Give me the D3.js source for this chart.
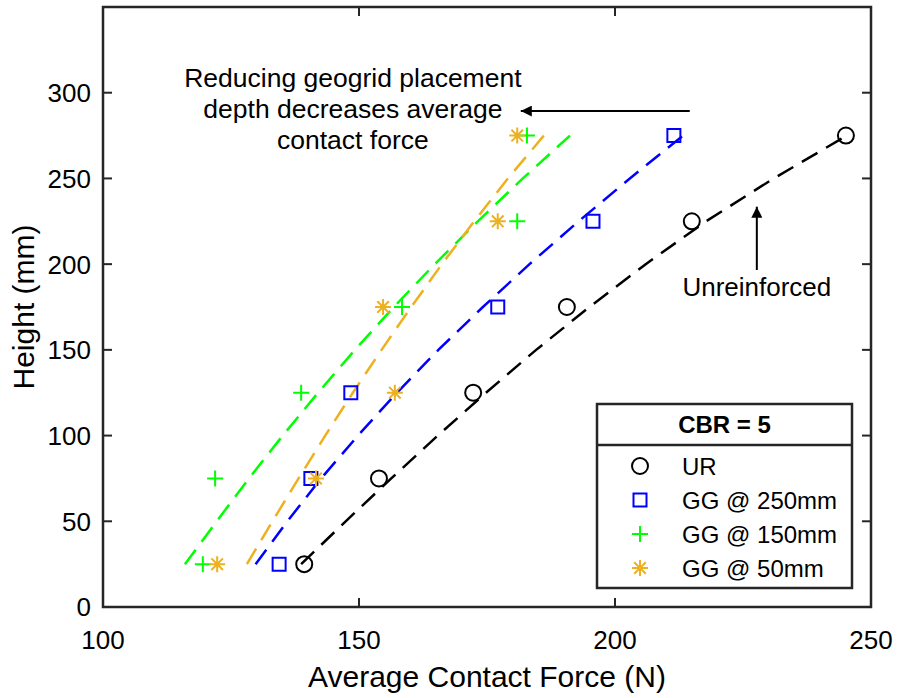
<!DOCTYPE html>
<html>
<head>
<meta charset="utf-8">
<script src="https://cdn.jsdelivr.net/npm/d3@7"></script>
<style>
  body { margin: 0; background: #fff; }
  svg { display: block; font-family: "Liberation Sans", Arial, sans-serif; }
</style>
</head>
<body>
<div id="chart"></div>
<script>
'use strict';

// ------------------------------------
// DATA
// ------------------------------------
const heights = [25, 75, 125, 175, 225, 275];
const forceUR = [139.3, 153.9, 172.3, 190.6, 215.0, 245.1];
const forceGG250 = [134.4, 140.6, 148.4, 177.1, 195.7, 211.5];
const forceGG150 = [119.5, 121.9, 138.7, 158.4, 180.9, 182.8];
const forceGG50 = [122.3, 141.6, 157.0, 154.7, 177.1, 180.9];

// dashed trend curves, sampled from the figure
const trendHeights = [25, 50, 75, 100, 125, 150, 175, 200, 225, 250, 275];
const trendUR = [138.7, 147.4, 156.3, 165.4, 174.8, 184.6, 195.0, 206.0, 217.8, 231.0, 245.3];
const trendGG250 = [129.8, 136.0, 142.6, 149.8, 157.4, 165.5, 174.2, 183.3, 192.9, 202.9, 213.3];
const trendGG150 = [116.0, 122.2, 128.5, 135.1, 142.0, 149.2, 156.8, 164.8, 173.2, 182.0, 191.2];
const trendGG50 = [128.1, 133.1, 138.2, 143.4, 148.8, 154.4, 160.2, 166.2, 172.5, 179.1, 186.1];

const xTicks = [100, 150, 200, 250];
const yTicks = [0, 50, 100, 150, 200, 250, 300];

const seriesNames = ["UR", "GG @ 250mm", "GG @ 150mm", "GG @ 50mm"];
const seriesColors = ["#000000", "#0000ff", "#00ff00", "#edb120"];
const seriesMarkers = ["circle", "square", "plus", "star"];

// ------------------------------------
// SETUP
// ------------------------------------
const width = 899;
const height = 698;
const margin = { top: 7, right: 28, bottom: 91, left: 103 };
const innerWidth = width - margin.left - margin.right;
const innerHeight = height - margin.top - margin.bottom;
const axisColor = "#262626";

const svg = d3.select("#chart")
  .append("svg")
  .attr("width", width)
  .attr("height", height);

const chart = svg.append("g")
  .attr("transform", `translate(${margin.left}, ${margin.top})`);

const x = d3.scaleLinear().domain([100, 250]).range([0, innerWidth]);
const y = d3.scaleLinear().domain([0, 350]).range([innerHeight, 0]);

// ------------------------------------
// AXES (box with inward ticks on all sides)
// ------------------------------------
const tickLen = 9;

const gAxes = chart.append("g").attr("class", "axes");

gAxes.selectAll(".xtick-b")
  .data(xTicks)
  .join("line")
  .attr("x1", d => x(d)).attr("x2", d => x(d))
  .attr("y1", innerHeight).attr("y2", innerHeight - tickLen);

gAxes.selectAll(".xtick-t")
  .data(xTicks)
  .join("line")
  .attr("x1", d => x(d)).attr("x2", d => x(d))
  .attr("y1", 0).attr("y2", tickLen);

gAxes.selectAll(".ytick-l")
  .data(yTicks)
  .join("line")
  .attr("x1", 0).attr("x2", tickLen)
  .attr("y1", d => y(d)).attr("y2", d => y(d));

gAxes.selectAll(".ytick-r")
  .data(yTicks)
  .join("line")
  .attr("x1", innerWidth).attr("x2", innerWidth - tickLen)
  .attr("y1", d => y(d)).attr("y2", d => y(d));

gAxes.selectAll("line")
  .attr("stroke", axisColor)
  .attr("stroke-width", 2);

gAxes.append("rect")
  .attr("x", 0).attr("y", 0)
  .attr("width", innerWidth).attr("height", innerHeight)
  .attr("fill", "none")
  .attr("stroke", axisColor)
  .attr("stroke-width", 2.5);

// tick labels
gAxes.selectAll(".xlabel")
  .data(xTicks)
  .join("text")
  .attr("x", d => x(d))
  .attr("y", innerHeight + 42)
  .attr("text-anchor", "middle")
  .attr("font-size", 26)
  .attr("fill", "#000")
  .text(d => d);

gAxes.selectAll(".ylabel")
  .data(yTicks)
  .join("text")
  .attr("x", -12)
  .attr("y", d => y(d))
  .attr("dy", "0.36em")
  .attr("text-anchor", "end")
  .attr("font-size", 26)
  .attr("fill", "#000")
  .text(d => d);

// axis titles
svg.append("text")
  .attr("x", margin.left + innerWidth / 2)
  .attr("y", 687)
  .attr("text-anchor", "middle")
  .attr("font-size", 30)
  .text("Average Contact Force (N)");

svg.append("text")
  .attr("transform", `translate(34, ${margin.top + innerHeight / 2}) rotate(-90)`)
  .attr("text-anchor", "middle")
  .attr("font-size", 30)
  .text("Height (mm)");

// ------------------------------------
// TREND LINES
// ------------------------------------
const trends = [trendUR, trendGG250, trendGG150, trendGG50];

const line = d3.line()
  .x(d => x(d.force))
  .y(d => y(d.height));

chart.append("g").attr("class", "trends")
  .selectAll("path")
  .data(trends.map((arr, i) => ({
    color: seriesColors[i],
    pts: arr.map((f, j) => ({ force: f, height: trendHeights[j] }))
  })))
  .join("path")
  .attr("fill", "none")
  .attr("stroke", d => d.color)
  .attr("stroke-width", 2.5)
  .attr("stroke-dasharray", "18,10")
  .attr("d", d => line(d.pts));

// ------------------------------------
// MARKERS
// ------------------------------------
function markerPath(type, cx, cy) {
  const p = d3.path();
  if (type === "circle") {
    p.moveTo(cx + 8, cy);
    p.arc(cx, cy, 8, 0, 2 * Math.PI);
  } else if (type === "square") {
    p.rect(cx - 6.5, cy - 6.5, 13, 13);
  } else if (type === "plus") {
    p.moveTo(cx - 8, cy); p.lineTo(cx + 8, cy);
    p.moveTo(cx, cy - 8); p.lineTo(cx, cy + 8);
  } else {
    const s = 8, k = 5.8;
    p.moveTo(cx - s, cy); p.lineTo(cx + s, cy);
    p.moveTo(cx, cy - s); p.lineTo(cx, cy + s);
    p.moveTo(cx - k, cy - k); p.lineTo(cx + k, cy + k);
    p.moveTo(cx - k, cy + k); p.lineTo(cx + k, cy - k);
  }
  return p.toString();
}

const forces = [forceUR, forceGG250, forceGG150, forceGG50];
const points = forces.flatMap((arr, i) =>
  arr.map((f, j) => ({ force: f, height: heights[j], s: i }))
);

chart.append("g").attr("class", "points")
  .selectAll("path")
  .data(points)
  .join("path")
  .attr("fill", "none")
  .attr("stroke", d => seriesColors[d.s])
  .attr("stroke-width", 2)
  .attr("d", d => markerPath(seriesMarkers[d.s], x(d.force), y(d.height)));

// ------------------------------------
// ANNOTATIONS
// ------------------------------------
const arrowColor = "#000";
svg.append("defs").append("marker")
  .attr("id", "head")
  .attr("viewBox", "0 0 10 10")
  .attr("refX", 10).attr("refY", 5)
  .attr("markerWidth", 14).attr("markerHeight", 11)
  .attr("markerUnits", "userSpaceOnUse")
  .attr("orient", "auto")
  .append("path")
  .attr("d", "M0,0 L10,5 L0,10 Z")
  .attr("fill", arrowColor);

const note = chart.append("g").attr("class", "notes");

note.append("text")
  .attr("text-anchor", "middle")
  .attr("font-size", 26.5)
  .selectAll("tspan")
  .data(["Reducing geogrid placement", "depth decreases average", "contact force"])
  .join("tspan")
  .attr("x", x(148.8))
  .attr("y", (d, i) => 80 + i * 31)
  .text(d => d);

note.append("line")
  .attr("x1", x(214.6)).attr("x2", x(181.6))
  .attr("y1", y(289.3)).attr("y2", y(289.3))
  .attr("stroke", arrowColor)
  .attr("stroke-width", 2)
  .attr("marker-end", "url(#head)");

note.append("line")
  .attr("x1", x(227.7)).attr("x2", x(227.7))
  .attr("y1", y(196.6)).attr("y2", y(233.5))
  .attr("stroke", arrowColor)
  .attr("stroke-width", 2)
  .attr("marker-end", "url(#head)");

note.append("text")
  .attr("x", x(227.7))
  .attr("y", y(187))
  .attr("dy", "0.36em")
  .attr("text-anchor", "middle")
  .attr("font-size", 26)
  .text("Unreinforced");

// ------------------------------------
// LEGEND
// ------------------------------------
const lg = svg.append("g").attr("transform", "translate(597, 404)");
const lgW = 255, lgH = 184, lgHead = 41;

lg.append("rect")
  .attr("width", lgW).attr("height", lgH)
  .attr("fill", "#fff")
  .attr("stroke", axisColor)
  .attr("stroke-width", 2.5);

lg.append("line")
  .attr("x1", 0).attr("x2", lgW)
  .attr("y1", lgHead).attr("y2", lgHead)
  .attr("stroke", axisColor)
  .attr("stroke-width", 2.5);

lg.append("text")
  .attr("x", lgW / 2)
  .attr("y", 29)
  .attr("text-anchor", "middle")
  .attr("font-size", 24)
  .attr("font-weight", "bold")
  .text("CBR = 5");

const rows = lg.selectAll(".row")
  .data(seriesNames)
  .join("g")
  .attr("transform", (d, i) => `translate(0, ${62 + i * 34})`);

rows.append("path")
  .attr("fill", "none")
  .attr("stroke", (d, i) => seriesColors[i])
  .attr("stroke-width", 2)
  .attr("d", (d, i) => markerPath(seriesMarkers[i], 43, 0));

rows.append("text")
  .attr("x", 85)
  .attr("dy", "0.36em")
  .attr("font-size", 24)
  .text(d => d);
</script>
</body>
</html>
